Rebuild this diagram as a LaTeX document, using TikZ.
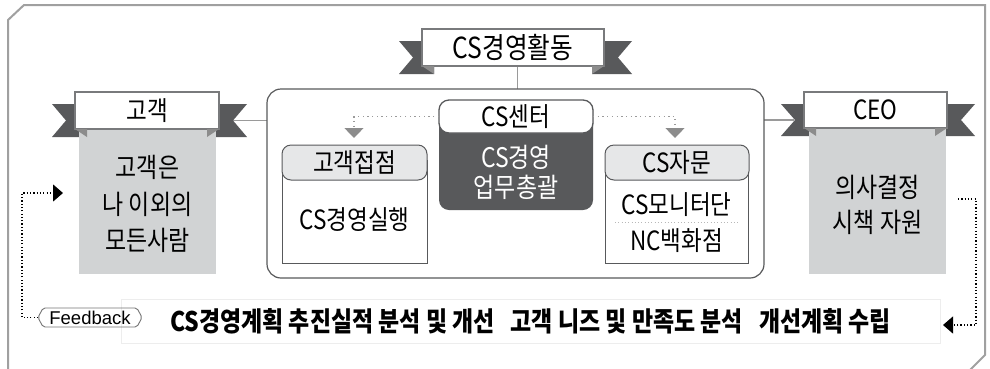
\documentclass[tikz,border=0pt]{standalone}
\usepackage{fontspec}
\setmainfont{Noto Sans CJK KR}[FakeStretch=0.85]
\newfontfamily\fbfont{Liberation Sans}
\usetikzlibrary{calc,backgrounds,arrows.meta}
\definecolor{dk}{HTML}{58595B}
\definecolor{foldc}{HTML}{8C8C8C}
\definecolor{lg}{HTML}{D1D3D4}
\definecolor{tabc}{HTML}{E6E7E8}
\definecolor{framec}{HTML}{A0A0A0}
\definecolor{dotc}{HTML}{9A9A9A}
\newcommand\fsz[2]{\fontsize{#1}{#2}\selectfont}
\newcommand\ribtails[1]{%
 \fill[dk] ($(#1.north west)+(-23,12)$) -- ($(#1.north west)+(12,12)$) -- ($(#1.south west)+(12,8)$) -- ($(#1.south west)+(-23,8)$) -- ($(#1.west)+(-9,10)$) -- cycle;
 \fill[dk] ($(#1.north east)+(28,12)$) -- ($(#1.north east)+(-12,12)$) -- ($(#1.south east)+(-12,8)$) -- ($(#1.south east)+(28,8)$) -- ($(#1.east)+(14,10)$) -- cycle;}
\newcommand\ribfolds[1]{%
 \fill[foldc] (#1.south west) -- ++(12,0) -- ++(0,8) -- cycle;
 \fill[foldc] (#1.south east) -- ++(-12,0) -- ++(0,8) -- cycle;}
\begin{document}
\begin{tikzpicture}[x=1pt,y=-1pt,
  every node/.style={inner sep=0pt, outer sep=0pt, font=\fsz{26.5}{31}},
  rbox/.style={draw=dk!80, line width=1.1pt, fill=white},
  gbox/.style={fill=lg},
  dkbox/.style={fill=dk, rounded corners=10pt},
  wtop/.style={fill=white, draw=dk, line width=1.3pt, rounded corners=10pt},
  bodybox/.style={draw=dk, line width=1pt, fill=white},
  tabbox/.style={draw=dk, line width=1pt, fill=tabc, rounded corners=9pt},
  band/.style={fill=white, draw=black!7, line width=1pt},
  conn/.style={draw=dotc, line width=1.2pt},
  gdot/.style={draw=dotc, line width=1.3pt, dash pattern=on 1.3pt off 3.4pt},
  fbdot/.style={draw=black, line width=1.2pt, dash pattern=on 1.2pt off 2.1pt},
  ltdot/.style={draw=dotc!70, line width=1pt, dash pattern=on 1pt off 2.3pt},
  outerframe/.style={draw=framec, line width=2pt}]
\useasboundingbox (0,0) rectangle (990,368);

% ribbon headers
\node[rbox, minimum width=182, minimum height=37, font=\fsz{29}{32}] (act) at (513,47.5) {CS경영활동};
\node[gbox, minimum width=137, minimum height=145] (custbox) at (147.5,201.5) {};
\node[gbox, minimum width=137, minimum height=145] (ceobox) at (877.5,201.5) {};
\node[rbox, minimum width=144, minimum height=37] (cust) at (147,110.5) {고객};
\node[rbox, minimum width=143, minimum height=36] (ceo) at (875.5,110) {CEO};
\ribfolds{act}
\ribfolds{cust}
\ribfolds{ceo}
\node[align=center, font=\fsz{27}{36.5}] (custtxt) at (147.5,204) {고객은\\나 이외의\\모든사람};
\node[align=center, font=\fsz{27}{35}] (ceotxt) at (877.5,204.5) {의사결정\\시책 자원};

% big container
\node[draw=dk, line width=1.2pt, rounded corners=14pt, minimum width=497, minimum height=189] (big) at (515.5,183.5) {};

% CS center
\node[dkbox, minimum width=154, minimum height=110] (ctr) at (516,155) {};
\node[wtop, minimum width=154, minimum height=33] (ctrtop) at (516,116.5) {CS센터};
\node[align=center, text=white, font=\fsz{27}{30}] (ctrtxt) at (516,172) {CS경영\\업무총괄};

% customer contact
\node[bodybox, minimum width=145, minimum height=103] (cpbody) at (354.5,211.5) {};
\node[tabbox, minimum width=145, minimum height=35] (cptab) at (354.5,162.5) {고객접점};
\node (cptxt) at (354.5,220) {CS경영실행};

% CS advisory
\node[bodybox, minimum width=143, minimum height=103] (advbody) at (676.5,211.5) {};
\node[tabbox, minimum width=144, minimum height=35] (advtab) at (677,162.5) {CS자문};
\node (adv1) at (676.5,205) {CS모니터단};
\node (adv2) at (676.5,241) {NC백화점};
\draw[ltdot] (615,222) -- (740,222);

% dotted arrows from CS center
\coordinate (ltip) at (354,138);
\coordinate (rtip) at (675,138);
\draw[gdot, -{Triangle[width=19pt,length=10pt,color=foldc]}] (ctrtop.west) -| (ltip);
\draw[gdot, -{Triangle[width=19pt,length=10pt,color=foldc]}] (ctrtop.east) -| (rtip);

% feedback band
\node[band, minimum width=819, minimum height=44, font=\bfseries\fsz{27}{31}] (band) at (530.5,321) {CS경영계획 추진실적 분석 및 개선\hspace{0.4em} 고객 니즈 및 만족도 분석\hspace{0.4em} 개선계획 수립};
\node[font=\fbfont\fsz{18.5}{20}, minimum width=94, minimum height=19] (fb) at (90,317.5) {Feedback};
\draw[draw=black!55, line width=0.9pt, rounded corners=2pt] (fb.north west) -- (fb.north east) -- ($(fb.east)+(5,0)$) -- (fb.south east) -- (fb.south west) -- ($(fb.west)+(-5,0)$) -- cycle;
\coordinate (fbl) at ($(fb.west)+(-5,0)$);
\coordinate (lc) at (22,193);
\coordinate (lt) at (63,193);
\coordinate (rs) at (958,199);
\coordinate (rc) at (976,199);
\coordinate (rt) at (943,325);
\draw[fbdot, -{Triangle[width=17pt,length=10pt]}] (fbl) -| (lc) -- (lt);
\draw[fbdot, -{Triangle[width=17pt,length=10pt]}] (rs) -- (rc) |- (rt);

\begin{pgfonlayer}{background}
\draw[outerframe] (8,375) -- (8,20) -- (24,5) -- (985,5) -- (985,355) -- (965,375);
\draw[conn] ($(act.south)+(4.5,0)$) coordinate (av) -- (av |- big.north);
\draw[conn] ($(cust.east)+(10,10)$) coordinate (cl) -- (cl -| big.west);
\draw[conn] ($(ceo.west)+(-10,10)$) coordinate (cr) -- (cr -| big.east);
\ribtails{act}
\ribtails{cust}
\ribtails{ceo}
\end{pgfonlayer}
\end{tikzpicture}
\end{document}
